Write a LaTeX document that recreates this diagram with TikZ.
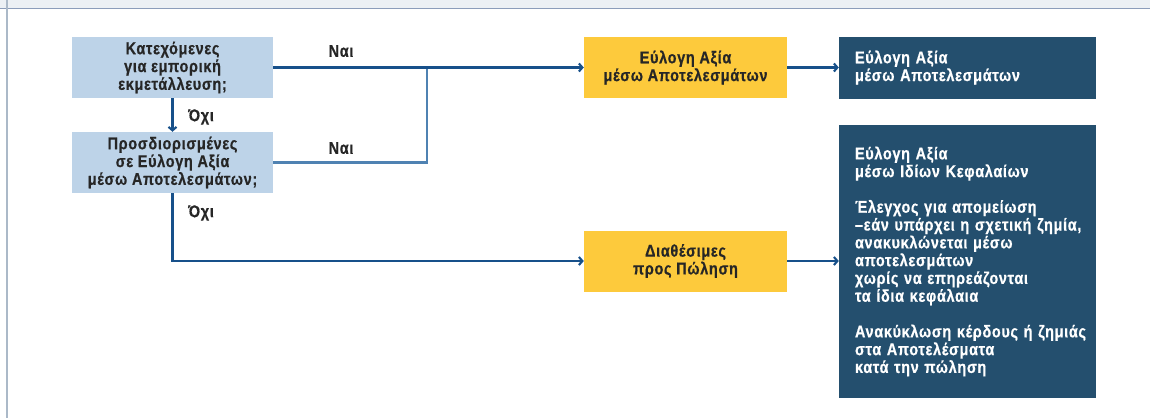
\documentclass[tikz,border=0pt]{standalone}
\usepackage{fontspec}
\setmainfont{Liberation Sans}[FakeStretch=0.85, LetterSpace=4, BoldFont={Liberation Sans Bold}, BoldFeatures={FakeBold=0.6}]
\usetikzlibrary{arrows.meta}
\definecolor{lblue}{HTML}{BDD3E8}
\definecolor{ylw}{HTML}{FDCA3C}
\definecolor{navy}{HTML}{244F6E}
\definecolor{lnk}{HTML}{17508A}
\definecolor{lnklight}{HTML}{4F82B2}
\definecolor{txt}{HTML}{262626}
\definecolor{band}{HTML}{ECF0F4}
\definecolor{bandline}{HTML}{8C9DBA}
\definecolor{sideline}{HTML}{ABB9C8}
\begin{document}
\begin{tikzpicture}[x=1pt,y=-1pt,
 every node/.style={font=\bfseries\fontsize{17}{17.8}\selectfont},
 qbox/.style={fill=lblue, minimum width=201pt, minimum height=61pt, align=center, text=txt, inner sep=0pt},
 ybox/.style={fill=ylw, minimum width=203pt, minimum height=61pt, align=center, text=txt, inner sep=0pt},
 nbox/.style={fill=navy, text=white, minimum width=257pt, text width=225pt, inner xsep=16pt, inner ysep=0pt, align=left},
 conn/.style={draw=lnk, line width=2.1pt, -{Straight Barb[length=3.5pt,width=8pt]}},
 link/.style={draw=lnklight, line width=2.1pt},
 lbl/.style={text=txt, inner sep=0pt}]
\useasboundingbox (0,0) rectangle (1150,418);
\fill[band] (0,0) rectangle (1150,8);
\draw[bandline, line width=1.5pt] (0,8.5) -- (1150,8.5);
\draw[sideline, line width=2pt] (7,0) -- (7,418);

\node[qbox] (A) at (172.5,67.5) {Κατεχόμενες\\για εμπορική\\εκμετάλλευση;};
\node[qbox] (B) at (172.5,162.5) {Προσδιορισμένες\\σε Εύλογη Αξία\\μέσω Αποτελεσμάτων;};
\node[ybox] (C) at (685.5,67.5) {Εύλογη Αξία\\μέσω Αποτελεσμάτων};
\node[ybox] (D) at (685.5,261) {Διαθέσιμες\\προς Πώληση};
\node[nbox, minimum height=62pt] (E) at (967.5,67.5) {Εύλογη Αξία\\μέσω Αποτελεσμάτων};
\node[nbox, minimum height=273pt] (F) at (967.5,261.5) {Εύλογη Αξία\\μέσω Ιδίων Κεφαλαίων\\[17.8pt]
Έλεγχος για απομείωση\\\mbox{–εάν υπάρχει η σχετική ζημία,}\\ανακυκλώνεται μέσω\\αποτελεσμάτων\\χωρίς να επηρεάζονται\\τα ίδια κεφάλαια\\[17.8pt]
\mbox{Ανακύκλωση κέρδους ή ζημιάς}\\στα Αποτελέσματα\\κατά την πώληση};

\coordinate (J) at (427,67.5);
\draw[link] (B.east) -| (J);
\draw[conn] (A.east) -- (C.west);
\draw[conn] (A.south) -- (B.north);
\draw[conn] (B.south) |- (D.west);
\draw[conn] (C.east) -- (E.west);
\draw[conn] (D.east) -- (D.east -| F.west);

\node[lbl] (n1) at (341,51) {Ναι};
\node[lbl] (n2) at (341,148) {Ναι};
\node[lbl] (o1) at (201,117) {Όχι};
\node[lbl] (o2) at (201,213) {Όχι};
\end{tikzpicture}
\end{document}
